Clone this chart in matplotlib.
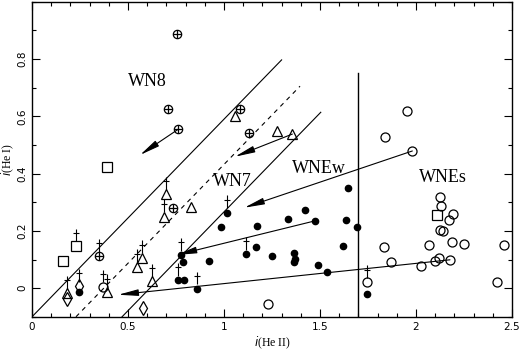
import matplotlib
matplotlib.use("Agg")
import matplotlib.pyplot as plt
import numpy as np

# open circles
circ_x = [1.951, 1.839, 1.981, 2.125, 2.128, 2.172, 2.191, 2.125, 2.142, 2.069, 2.186, 2.25,
          2.458, 1.835, 1.87, 2.024, 2.099, 2.122, 2.177, 2.42, 1.743, 1.231, 0.371]
circ_y = [0.62, 0.527, 0.479, 0.32, 0.288, 0.238, 0.258, 0.204, 0.201, 0.149, 0.161, 0.155,
          0.15, 0.145, 0.091, 0.078, 0.096, 0.105, 0.099, 0.021, 0.02, -0.056, 0.005]
# squares
sq_x = [0.392, 0.229, 0.16, 2.111]
sq_y = [0.424, 0.148, 0.095, 0.256]
# circle + cross
cp_x = [0.754, 0.707, 0.762, 1.083, 1.132, 0.351, 0.733]
cp_y = [0.886, 0.627, 0.555, 0.626, 0.541, 0.113, 0.279]
# triangles
tri_x = [1.057, 1.274, 1.356, 0.698, 0.6875, 0.826, 0.571, 0.545, 0.623, 0.389, 0.18]
tri_y = [0.602, 0.547, 0.538, 0.328, 0.25, 0.283, 0.107, 0.075, 0.025, -0.012, -0.017]
# diamonds
dia_x = [0.576, 0.246, 0.184]
dia_y = [-0.07, 0.008, -0.038]
# filled circles
fil_x = [1.648, 1.422, 1.017, 0.983, 1.17, 1.335, 1.474, 1.634, 1.691, 1.167, 1.115, 1.248,
         1.365, 1.37, 1.365, 1.621, 1.491, 1.535, 0.922, 0.788, 0.762, 0.792, 0.861, 0.776,
         1.746, 0.243]
fil_y = [0.349, 0.273, 0.264, 0.213, 0.217, 0.241, 0.235, 0.238, 0.215, 0.145, 0.119, 0.114,
         0.122, 0.101, 0.091, 0.148, 0.081, 0.058, 0.095, 0.091, 0.029, 0.027, -0.002, 0.116,
         -0.02, -0.012]
# points with an upper-limit mark on top
lim_x = [0.229, 0.351, 0.698, 0.6875, 0.571, 0.545, 0.623, 0.371, 0.389, 0.246, 0.18,
         1.017, 1.115, 0.776, 0.762, 0.861, 1.743]
lim_y = [0.148, 0.113, 0.328, 0.25, 0.107, 0.075, 0.025, 0.005, -0.012, 0.008, -0.017,
         0.264, 0.119, 0.116, 0.029, -0.002, 0.02]

# arrows (tail -> head)
arr_tail = [(0.762, 0.555), (1.356, 0.538), (1.981, 0.479), (1.474, 0.235), (2.177, 0.099)]
arr_head = [(0.5625, 0.465), (1.057, 0.459), (1.106, 0.281), (0.753, 0.116), (0.449, -0.023)]

# class boundaries
slope = 0.69
lines_x0 = [0.0, 0.229, 0.469]
lines_x1 = [1.30, 1.396, 1.504]
lines_ls = ['-', (0, (4, 4)), '-']
vline_x = 1.70
vline_top = 0.75

labels = ["WN8", "WN7", "WNEw", "WNEs"]
lab_x = [0.5, 0.944, 1.353, 2.017]
lab_y = [0.721, 0.372, 0.419, 0.386]

fig = plt.figure(figsize=(5.21, 3.52), dpi=100)
ax = fig.add_axes([32/521, 0.100, 480/521, 0.895])

for x0, x1, ls in zip(lines_x0, lines_x1, lines_ls):
    xs = np.array([x0, x1])
    ax.plot(xs, -0.1 + slope*(xs - x0), color='k', lw=0.8, ls=ls)
ax.plot([vline_x, vline_x], [-0.1, vline_top], color='k', lw=1.0)

for t, h in zip(arr_tail, arr_head):
    ax.annotate('', xy=h, xytext=t,
                arrowprops=dict(arrowstyle='-|>,head_length=1.1,head_width=0.18',
                                color='k', lw=0.8, shrinkA=0, shrinkB=0, mutation_scale=11))

ax.plot(circ_x, circ_y, 'o', mfc='none', mec='k', ms=6.5, mew=0.9)
ax.plot(sq_x, sq_y, 's', mfc='none', mec='k', ms=7, mew=0.9)
ax.plot(cp_x, cp_y, 'o', mfc='none', mec='k', ms=6, mew=0.9)
ax.plot(cp_x, cp_y, '+', color='k', ms=6, mew=0.9)
ax.plot(tri_x, tri_y, '^', mfc='none', mec='k', ms=7, mew=0.9)
ax.plot(dia_x, dia_y, 'd', mfc='none', mec='k', ms=7, mew=0.9)
ax.plot(fil_x, fil_y, 'o', color='k', ms=4.5)
# upper-limit marks: short stem with a small bar
lim_y = np.array(lim_y)
ax.vlines(lim_x, lim_y + 0.015, lim_y + 0.06, color='k', lw=0.8)
ax.plot(lim_x, lim_y + 0.045, '_', color='k', ms=4, mew=0.8)

for s, x, y in zip(labels, lab_x, lab_y):
    ax.text(x, y, s, fontsize=13, family='Liberation Serif', va='center', ha='left')

ax.set_xlim(0, 2.5)
ax.set_ylim(-0.1, 1)
ax.set_xticks(np.arange(0, 2.51, 0.5))
ax.set_xticks(np.arange(0, 2.51, 0.1), minor=True)
ax.set_yticks(np.arange(0, 0.81, 0.2))
ax.set_yticks(np.arange(-0.1, 1.01, 0.1), minor=True)
ax.set_xticklabels(['0', '0.5', '1', '1.5', '2', '2.5'])
ax.set_yticklabels(['0', '0.2', '0.4', '0.6', '0.8'], rotation=90, va='center')
ax.tick_params(which='both', direction='in', top=True, right=True, labelsize=7.5, width=0.8)
ax.tick_params(which='major', length=6)
ax.tick_params(which='minor', length=3)
for sp in ax.spines.values():
    sp.set_linewidth(1.0)
ax.set_xlabel(r'$i$(He II)', family='Liberation Serif', fontsize=8.5, labelpad=2)
ax.set_ylabel(r'$i$(He I)', family='Liberation Serif', fontsize=8.5, labelpad=1)

fig.savefig('out.png', dpi=100)
